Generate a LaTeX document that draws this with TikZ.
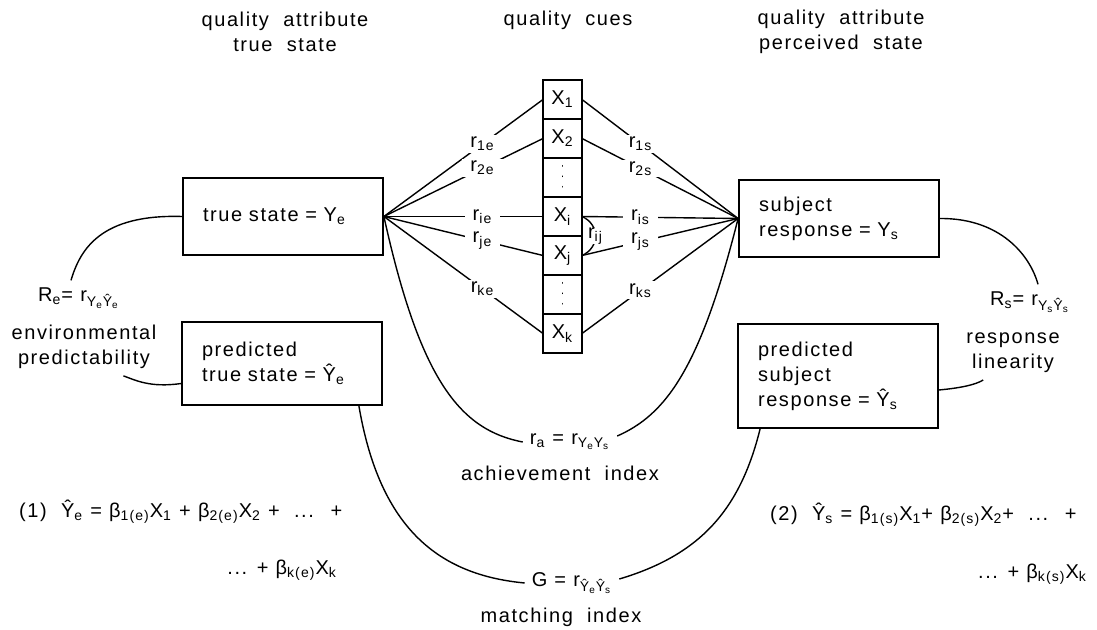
\documentclass[tikz,border=0pt]{standalone}
\usepackage{fontspec}
\setmainfont{Liberation Sans}[LetterSpace=8,WordSpace=2]
\newfontfamily\formfont{Liberation Sans}[LetterSpace=8,WordSpace=1]
\usetikzlibrary{positioning}

\begin{document}
\begin{tikzpicture}[x=0.5pt,y=-0.5pt,
  font=\fontsize{10}{12.5}\selectfont,
  box/.style={draw,line width=0.9pt,rectangle,text width=80pt,inner xsep=10pt,align=left},
  cue/.style={draw,line width=0.9pt,minimum size=19.5pt,inner sep=0pt,outer sep=0pt},
  lab/.style={fill=white,inner xsep=4pt,inner ysep=1pt},
  formula/.style={font=\fontsize{10}{12.5}\formfont},
  link/.style={line width=0.7pt},
  dots/.style={line width=0.9pt,line cap=round,dash pattern=on 0.01pt off 5.2pt}]
\useasboundingbox (0,0) rectangle (1097,630);
% headings
\node[align=center] (hte) at (285,32) {quality attribute\\true state};
\node (hqc) at (568,20) {quality cues};
\node[align=center] (hps) at (841,32) {quality attribute\\perceived state};
% state boxes
\node[box,minimum height=38.5pt] (te) at (283,216.5) {true state = Y\textsubscript{e}};
\node[box,minimum height=38.5pt] (sr) at (839,218.5) {subject\\response = Y\textsubscript{s}};
\node[box,minimum height=41.5pt] (pt) at (282,363.5) {predicted\\true state = Ŷ\textsubscript{e}};
\node[box,minimum height=52pt] (ps) at (838,376) {predicted\\subject\\response = Ŷ\textsubscript{s}};
% cue column
\node[cue] (c1) at (562.5,99.5) {X\textsubscript{1}};
\node[cue,below=0pt of c1] (c2) {X\textsubscript{2}};
\node[cue,below=0pt of c2] (c3) {};
\node[cue,below=0pt of c3] (c4) {X\textsubscript{i}};
\node[cue,below=0pt of c4] (c5) {X\textsubscript{j}};
\node[cue,below=0pt of c5] (c6) {};
\node[cue,below=0pt of c6] (c7) {X\textsubscript{k}};
\draw[dots] ([yshift=5.8pt]c3.center) -- ([yshift=-4.8pt]c3.center);
\draw[dots] ([yshift=5.8pt]c6.center) -- ([yshift=-4.8pt]c6.center);
% ecological validities
\draw[link] (te.east) -- node[lab,pos=0.62] {r\textsubscript{1e}} (c1.west);
\draw[link] (te.east) -- node[lab,pos=0.62] {r\textsubscript{2e}} (c2.west);
\draw[link] (te.east) -- node[lab,pos=0.62] {r\textsubscript{ie}} (c4.west);
\draw[link] (te.east) -- node[lab,pos=0.62] {r\textsubscript{je}} (c5.west);
\draw[link] (te.east) -- node[lab,pos=0.62] {r\textsubscript{ke}} (c7.west);
% cue utilizations
\draw[link] (c1.east) -- node[lab,pos=0.375] {r\textsubscript{1s}} (sr.west);
\draw[link] (c2.east) -- node[lab,pos=0.375] {r\textsubscript{2s}} (sr.west);
\draw[link] (c4.east) -- node[lab,pos=0.375] {r\textsubscript{is}} (sr.west);
\draw[link] (c5.east) -- node[lab,pos=0.375] {r\textsubscript{js}} (sr.west);
\draw[link] (c7.east) -- node[lab,pos=0.375] {r\textsubscript{ks}} (sr.west);
% cue intercorrelation
\draw[link] (c4.east) .. controls +(18,8) and +(18,-8) ..
  node[lab,inner xsep=0.5pt,inner ysep=0pt] {r\textsubscript{ij}} (c5.east);
% indices
\node[formula] (ra) at (570,442) {r\textsubscript{a} = r\textsubscript{Y\textsubscript{e}Y\textsubscript{s}}};
\node (ai) at (560,473) {achievement index};
\node[formula] (gm) at (572,583) {G = r\textsubscript{Ŷ\textsubscript{e}Ŷ\textsubscript{s}}};
\node (mi) at (561,617) {matching index};
\node[formula] (Re) at (79,298) {R\textsubscript{e}= r\textsubscript{Y\textsubscript{e}Ŷ\textsubscript{e}}};
\node[align=center] (ep) at (84,347) {environmental\\predictability};
\node[formula] (Rs) at (1030,302) {R\textsubscript{s}= r\textsubscript{Y\textsubscript{s}Ŷ\textsubscript{s}}};
\node[align=center] (rl) at (1013,353) {response\\linearity};
% achievement
\draw[link] (te.east) .. controls (420,380) and (460,430) .. (ra.west);
\draw[link] (sr.west) .. controls (700,370) and (665,415) .. ([yshift=3pt]ra.east);
% matching
\draw[link] ([xshift=-12pt]pt.south east) .. controls (380,530) and (440,575) .. (gm.west);
\draw[link] ([xshift=11.5pt]ps.south west) .. controls (740,510) and (700,555) .. ([yshift=2pt]gm.east);
% predictability and linearity
\draw[link] (te.west) .. controls (100,214) and (80,250) .. ([xshift=-4pt]Re.north);
\draw[link] ([yshift=-10pt]pt.west) .. controls (150,388) and (135,380) .. ([xshift=-20pt]ep.south east);
\draw[link] (sr.east) .. controls (1000,218) and (1030,255) .. ([xshift=4pt]Rs.north);
\draw[link] ([yshift=-7pt]ps.east) .. controls (960,388) and (975,385) .. ([xshift=12pt]rl.south west);
% regression equations
\node[formula,anchor=west] (eqa) at (12,512) {(1)\ \ Ŷ\textsubscript{e} = β\textsubscript{1(e)}X\textsubscript{1} + β\textsubscript{2(e)}X\textsubscript{2} + \ ... \ +};
\node[formula,anchor=east] (eqb) at (344,570) {... + β\textsubscript{k(e)}X\textsubscript{k}};
\node[formula,anchor=west] (eqc) at (763,515) {(2)\ \ Ŷ\textsubscript{s} = β\textsubscript{1(s)}X\textsubscript{1}+ β\textsubscript{2(s)}X\textsubscript{2}+ \ ... \ +};
\node[formula,anchor=east] (eqd) at (1094,574) {... + β\textsubscript{k(s)}X\textsubscript{k}};
\end{tikzpicture}
\end{document}
